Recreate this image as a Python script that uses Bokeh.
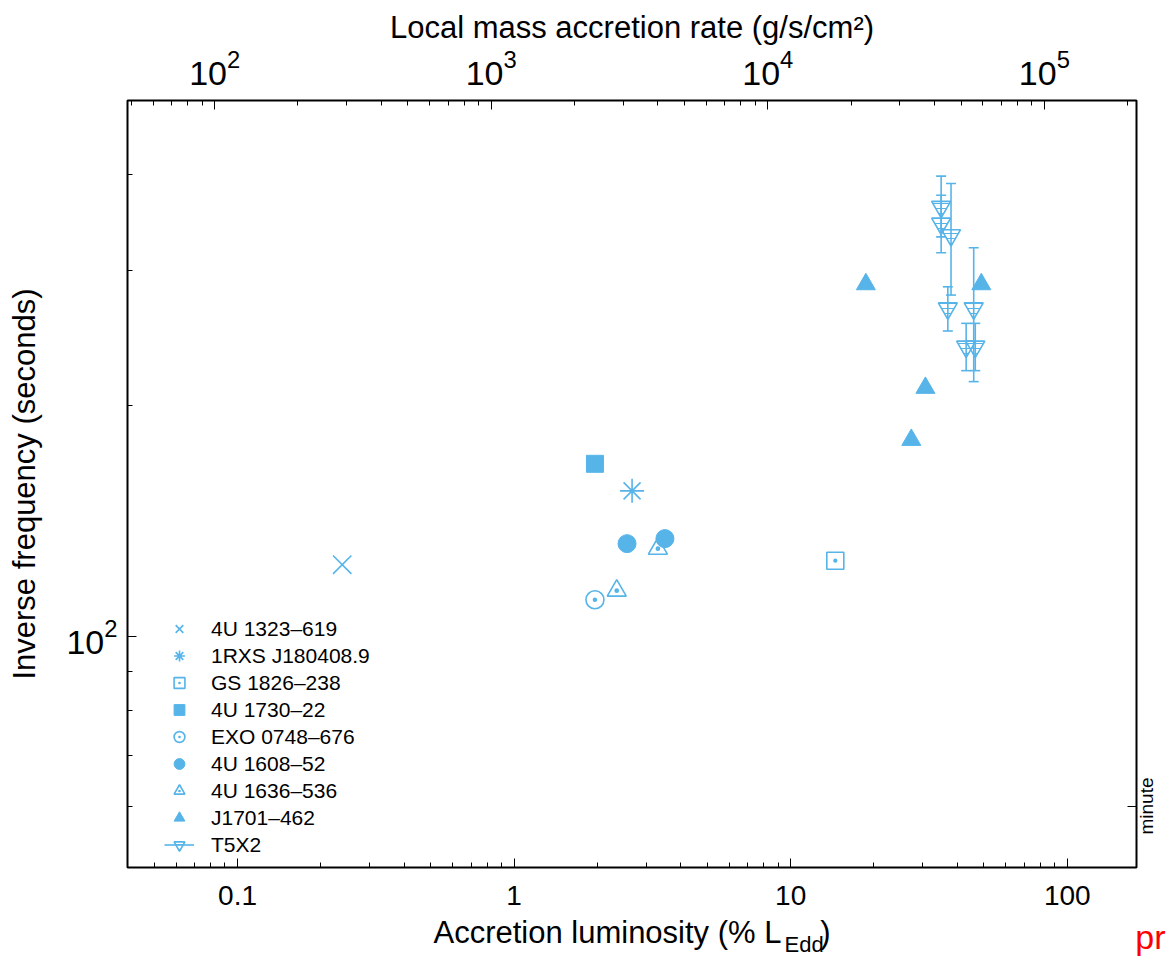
import math
from bokeh.plotting import figure
from bokeh.models import (LogAxis, Range1d, FixedTicker, CustomJSTickFormatter,
                          Legend, LegendItem, LogScale, Title)
from bokeh.embed import file_html
from bokeh.resources import INLINE

# ---------------- data ----------------
lum_4u1323 = [0.239]
inv_4u1323 = [124.1]

lum_1rxs = [2.67]
inv_1rxs = [154.9]

lum_gs1826 = [14.5]
inv_gs1826 = [125.6]

lum_4u1730 = [1.96]
inv_4u1730 = [168.0]

lum_exo0748 = [1.96]
inv_exo0748 = [111.7]

lum_4u1608 = [2.56, 3.51]
inv_4u1608 = [132.2, 134.2]

lum_4u1636 = [3.31, 2.35]
inv_4u1636 = [130.2, 114.8]

lum_j1701 = [18.7, 30.7, 27.3, 48.9]
inv_j1701 = [288.0, 211.0, 180.5, 288.0]

lum_t5x2 = [35.0, 35.0, 38.0, 37.0, 45.9, 43.1, 46.5]
inv_t5x2 = [363.3, 345.6, 333.7, 267.9, 267.9, 238.8, 238.8]
inv_t5x2_hi = [398.4, 376.3, 389.7, 285.8, 321.4, 256.1, 256.1]
inv_t5x2_lo = [332.0, 316.5, 278.8, 250.3, 215.0, 222.2, 222.2]

legend_labels = ["4U 1323\u2013619", "1RXS J180408.9", "GS 1826\u2013238", "4U 1730\u201322",
                 "EXO 0748\u2013676", "4U 1608\u201352", "4U 1636\u2013536", "J1701\u2013462", "T5X2"]

# ticks
lum_ticks = [0.1, 1, 10, 100]
lum_minor = [0.05, 0.06, 0.07, 0.08, 0.09, 0.2, 0.3, 0.4, 0.5, 0.6, 0.7, 0.8, 0.9,
             2, 3, 4, 5, 6, 7, 8, 9, 20, 30, 40, 50, 60, 70, 80, 90]
inv_ticks = [100]
inv_minor = [60, 70, 80, 90, 200, 300, 400]
mdot_ticks = [1e2, 1e3, 1e4, 1e5]
mdot_minor = [50, 60, 70, 80, 90, 200, 300, 400, 500, 600, 700, 800, 900,
              2000, 3000, 4000, 5000, 6000, 7000, 8000, 9000,
              20000, 30000, 40000, 50000, 60000, 70000, 80000, 90000, 200000]
minute_tick = [60]          # one minute, in seconds
minute_label_anchor = 55.2  # where the rotated "minute" text starts
lum_to_mdot = 1210.0        # local mass accretion rate per % L_Edd

lum_range = (0.04, 178)
inv_range = (50, 500)

BLUE = "#56B4E9"
FONT = "Liberation Sans"

p = figure(width=1170, height=959, x_axis_type="log", y_axis_type="log",
           x_range=Range1d(*lum_range), y_range=Range1d(*inv_range),
           output_backend="svg", toolbar_location=None,
           min_border_left=127, min_border_right=23, min_border_top=100, min_border_bottom=92)
p.background_fill_color = "white"
p.border_fill_color = "white"
p.grid.grid_line_color = None
p.outline_line_color = "black"
p.outline_line_width = 2

p.extra_x_ranges = {"mdot": Range1d(lum_range[0] * lum_to_mdot, lum_range[1] * lum_to_mdot)}
p.extra_x_scales = {"mdot": LogScale()}

def style_axis(ax, font_size):
    ax.axis_line_color = None
    ax.major_tick_in = 9
    ax.major_tick_out = 0
    ax.minor_tick_in = 5
    ax.minor_tick_out = 0
    ax.major_tick_line_color = "black"
    ax.minor_tick_line_color = "black"
    ax.major_tick_line_width = 1
    ax.minor_tick_line_width = 1
    ax.major_label_text_font = FONT
    ax.major_label_text_font_size = font_size
    ax.major_label_text_color = "black"
    ax.axis_label_text_font = FONT
    ax.axis_label_text_font_style = "normal"
    ax.axis_label_text_font_size = "31px"
    ax.axis_label_text_color = "black"

# bottom axis
xb = p.xaxis[0]
xb.ticker = FixedTicker(ticks=lum_ticks, minor_ticks=lum_minor)
xb.formatter = CustomJSTickFormatter(code="return tick >= 1 ? tick.toFixed(0) : tick.toFixed(1);")
style_axis(xb, "28px")
xb.major_label_standoff = 18
xb.axis_label = "Accretion luminosity (% L\u2003\u2005)"
xb.axis_label_standoff = 7

# left axis
yl = p.yaxis[0]
yl.ticker = FixedTicker(ticks=inv_ticks, minor_ticks=inv_minor)
style_axis(yl, "34px")
yl.major_label_standoff = 10
yl.axis_label = "Inverse frequency (seconds)"
yl.axis_label_standoff = 21

# top axis
xt = LogAxis(x_range_name="mdot", ticker=FixedTicker(ticks=mdot_ticks, minor_ticks=mdot_minor))
style_axis(xt, "34px")
xt.major_label_standoff = 16
xt.axis_label = "Local mass accretion rate (g/s/cm\u00b2)"
xt.axis_label_standoff = 2
p.add_layout(xt, "above")

# right axis: a tick at one minute, and its rotated label
yr = LogAxis(ticker=FixedTicker(ticks=[minute_label_anchor], minor_ticks=minute_tick))
style_axis(yr, "19px")
yr.major_tick_line_color = None
yr.minor_tick_in = 9
yr.formatter = CustomJSTickFormatter(code="return 'minute';")
yr.major_label_orientation = math.pi / 2
yr.major_label_standoff = 10
p.add_layout(yr, "right")

# subscript of the bottom axis label
p.add_layout(Title(text="Edd\n\u2007", align="left", offset=657, vertical_align="top",
                   standoff=-42, text_font=FONT, text_font_size="22px",
                   text_font_style="normal", text_color="black", text_line_height=0.65), "below")
# watermark fragment
p.add_layout(Title(text="pr\n\u2007", align="right", offset=-29, vertical_align="top",
                   standoff=-72, text_font=FONT, text_font_size="34px",
                   text_font_style="normal", text_color="red", text_line_height=0.85), "below")

LW = 1.6
r1 = p.scatter(lum_4u1323, inv_4u1323, marker="x", size=26, line_color=BLUE, line_width=LW)
r2 = p.scatter(lum_1rxs, inv_1rxs, marker="asterisk", size=24, line_color=BLUE, line_width=LW)
r3 = p.scatter(lum_gs1826, inv_gs1826, marker="square_dot", size=17, fill_color=None,
               line_color=BLUE, line_width=LW)
r4 = p.scatter(lum_4u1730, inv_4u1730, marker="square", size=17, fill_color=BLUE, line_color=BLUE)
r5 = p.scatter(lum_exo0748, inv_exo0748, marker="circle_dot", size=18, fill_color=None,
               line_color=BLUE, line_width=LW)
r6 = p.scatter(lum_4u1608, inv_4u1608, marker="circle", size=18, fill_color=BLUE, line_color=BLUE)
r7 = p.scatter(lum_4u1636, inv_4u1636, marker="triangle_dot", size=19, fill_color=None,
               line_color=BLUE, line_width=LW)
r8 = p.scatter(lum_j1701, inv_j1701, marker="triangle", size=19, fill_color=BLUE, line_color=BLUE)
r9e = p.segment(x0=lum_t5x2, y0=inv_t5x2_lo, x1=lum_t5x2, y1=inv_t5x2_hi,
                line_color=BLUE, line_width=LW)
p.scatter(lum_t5x2, inv_t5x2_hi, marker="dash", size=10, line_color=BLUE, line_width=LW)
p.scatter(lum_t5x2, inv_t5x2_lo, marker="dash", size=10, line_color=BLUE, line_width=LW)
r9 = p.scatter(lum_t5x2, inv_t5x2, marker="inverted_triangle", size=19, fill_color=None,
               line_color=BLUE, line_width=LW, hatch_pattern="-", hatch_color=BLUE,
               hatch_scale=5, hatch_weight=1)

rends = [[r1], [r2], [r3], [r4], [r5], [r6], [r7], [r8], [r9e, r9]]
legend = Legend(items=[LegendItem(label=l, renderers=r) for l, r in zip(legend_labels, rends)],
                location=(37, 9), orientation="vertical", padding=0, margin=0, spacing=0,
                glyph_width=30, glyph_height=27, label_height=27, label_standoff=17,
                label_text_font=FONT, label_text_font_size="21px", label_text_color="black",
                background_fill_alpha=0, border_line_color=None)
p.add_layout(legend)

open("out.html", "w").write(file_html(p, INLINE))
